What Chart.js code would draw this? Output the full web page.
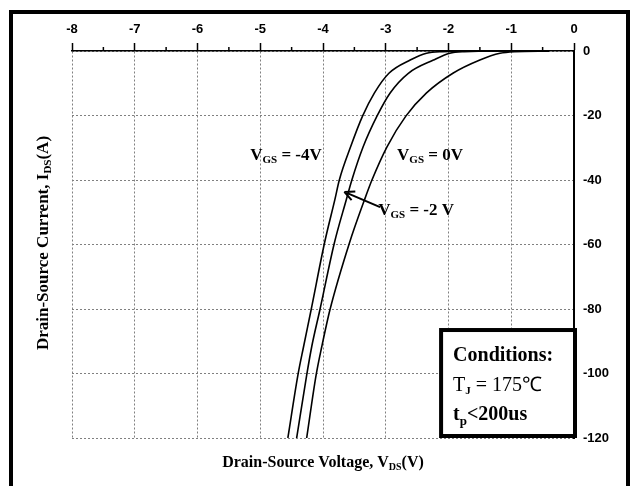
<!DOCTYPE html>
<html>
<head>
<meta charset="utf-8">
<script src="https://cdn.jsdelivr.net/npm/chart.js@4.4.0/dist/chart.umd.min.js"></script>
<style>
  html, body { margin: 0; padding: 0; background: #fff; }
  #wrap { position: relative; width: 632px; height: 486px; overflow: hidden; }
  #frame { position: absolute; left: 9px; top: 10px; width: 621px; height: 520px;
           box-sizing: border-box; border: 4px solid #000; pointer-events: none; }
</style>
</head>
<body>
<div id="wrap">
  <canvas id="myChart" width="632" height="486"></canvas>
  <div id="frame"></div>
</div>
<script>
// tick values
const xTickValues = [-8, -7, -6, -5, -4, -3, -2, -1, 0];
const xMinorTicks = [-7.5, -6.5, -5.5, -4.5, -3.5, -2.5, -1.5, -0.5];
const yTickValues = [-120, -100, -80, -60, -40, -20, 0];

// V_GS = -4V (left curve)
const vgsNeg4X = [-4.56, -4.40, -4.31, -4.19, -3.97, -3.81, -3.74, -3.56, -3.37, -3.18, -2.95, -2.61, -2.35, -2.10, -1.50, -0.40];
const vgsNeg4Y = [-120, -100.5, -91.7, -80.3, -59, -46, -40, -29.7, -20.2, -13, -6.9, -2.8, -0.7, -0.2, 0, 0];
// V_GS = -2V (middle curve)
const vgsNeg2X = [-4.42, -4.26, -4.18, -4.05, -3.82, -3.63, -3.54, -3.36, -3.14, -2.93, -2.64, -2.24, -1.98, -1.75, -1.20, -0.40];
const vgsNeg2Y = [-120, -100.5, -91.7, -80.3, -59.6, -46.2, -40, -29.7, -20.2, -13, -6.9, -2.8, -0.7, -0.2, 0, 0];
// V_GS = 0V (right curve)
const vgs0X = [-4.26, -4.11, -4.02, -3.89, -3.58, -3.34, -3.22, -2.98, -2.68, -2.35, -1.93, -1.50, -1.18, -0.95, -0.40];
const vgs0Y = [-120, -100.5, -91.7, -80.3, -59.6, -46.2, -40, -29.7, -20.2, -13, -6.9, -2.8, -0.7, -0.2, 0];

function toPoints(xs, ys) {
  return xs.map((v, i) => ({ x: v, y: ys[i] }));
}

// draws text pieces one after another (for subscripts)
function drawParts(ctx, parts, x, y) {
  parts.forEach(p => {
    ctx.font = p.font;
    ctx.fillText(p.text, x, y + (p.dy || 0));
    x += ctx.measureText(p.text).width;
  });
}

function partsWidth(ctx, parts) {
  let w = 0;
  parts.forEach(p => { ctx.font = p.font; w += ctx.measureText(p.text).width; });
  return w;
}

const SERIF = '"Liberation Serif", "Times New Roman", serif';
const big = 'bold 17px ' + SERIF;
const sub = 'bold 11px ' + SERIF;

const extras = {
  id: 'extras',
  afterDraw(chart) {
    const ctx = chart.ctx;
    const xs = chart.scales.x;
    const ys = chart.scales.y;
    const area = chart.chartArea;
    ctx.save();
    ctx.fillStyle = '#000';
    ctx.strokeStyle = '#000';
    ctx.textBaseline = 'alphabetic';
    ctx.textAlign = 'left';

    // minor ticks on the top axis
    ctx.lineWidth = 1.5;
    xMinorTicks.forEach(v => {
      const px = xs.getPixelForValue(v);
      ctx.beginPath();
      ctx.moveTo(px, area.top);
      ctx.lineTo(px, area.top - 4);
      ctx.stroke();
    });

    // curve labels
    drawParts(ctx, [{text: 'V', font: big}, {text: 'GS', font: sub, dy: 3}, {text: ' = -4V', font: big}],
      xs.getPixelForValue(-5.16), ys.getPixelForValue(-33.8));
    drawParts(ctx, [{text: 'V', font: big}, {text: 'GS', font: sub, dy: 3}, {text: ' = 0V', font: big}],
      xs.getPixelForValue(-2.82), ys.getPixelForValue(-33.8));
    drawParts(ctx, [{text: 'V', font: big}, {text: 'GS', font: sub, dy: 3}, {text: ' = -2 V', font: big}],
      xs.getPixelForValue(-3.12), ys.getPixelForValue(-50.9));

    // arrow pointing at the -2V curve
    const tx = xs.getPixelForValue(-3.66), ty = ys.getPixelForValue(-43.7);
    const fx = xs.getPixelForValue(-3.09), fy = ys.getPixelForValue(-48.4);
    const ang = Math.atan2(ty - fy, tx - fx);
    ctx.lineWidth = 2;
    ctx.beginPath();
    ctx.moveTo(fx, fy);
    ctx.lineTo(tx, ty);
    ctx.moveTo(tx, ty);
    ctx.lineTo(tx - 11 * Math.cos(ang - 0.45), ty - 11 * Math.sin(ang - 0.45));
    ctx.moveTo(tx, ty);
    ctx.lineTo(tx - 11 * Math.cos(ang + 0.45), ty - 11 * Math.sin(ang + 0.45));
    ctx.stroke();

    // conditions box
    const bx = xs.getPixelForValue(-2.15), by = ys.getPixelForValue(-85.9);
    const bx2 = xs.getPixelForValue(0) + 3, by2 = ys.getPixelForValue(-120);
    ctx.fillStyle = '#fff';
    ctx.fillRect(bx, by, bx2 - bx, by2 - by);
    ctx.lineWidth = 4;
    ctx.strokeRect(bx + 2, by + 2, bx2 - bx - 4, by2 - by - 4);
    ctx.fillStyle = '#000';
    const cBig = 'bold 20px ' + SERIF;
    drawParts(ctx, [{text: 'Conditions:', font: cBig}], bx + 14, by + 33);
    drawParts(ctx, [{text: 'T', font: '20px ' + SERIF}, {text: 'J', font: 'bold 11px ' + SERIF, dy: 3},
      {text: ' = 175\u2103', font: '20px ' + SERIF}], bx + 14, by + 63);
    drawParts(ctx, [{text: 't', font: cBig}, {text: 'p', font: 'bold 13px ' + SERIF, dy: 5},
      {text: '<200us', font: cBig}], bx + 14, by + 92);

    // axis titles
    const xt = [{text: 'Drain-Source Voltage, V', font: 'bold 16px ' + SERIF},
      {text: 'DS', font: 'bold 10px ' + SERIF, dy: 3}, {text: '(V)', font: 'bold 16px ' + SERIF}];
    const xw = partsWidth(ctx, xt);
    drawParts(ctx, xt, (area.left + area.right) / 2 - xw / 2, 467);

    const yt = [{text: 'Drain-Source Current, I', font: 'bold 17px ' + SERIF},
      {text: 'DS', font: 'bold 11px ' + SERIF, dy: 3}, {text: '(A)', font: 'bold 17px ' + SERIF}];
    const yw = partsWidth(ctx, yt);
    ctx.translate(48, 243);
    ctx.rotate(-Math.PI / 2);
    drawParts(ctx, yt, -yw / 2, 0);
    ctx.restore();
  }
};

function createChart() {
  const ctx = document.getElementById('myChart').getContext('2d');
  const curve = {
    showLine: true,
    pointRadius: 0,
    borderColor: '#000',
    borderWidth: 1.6,
    cubicInterpolationMode: 'monotone',
    fill: false
  };
  const tickFont = { family: '"Liberation Sans", Arial, sans-serif', size: 13, weight: 'bold' };

  new Chart(ctx, {
    type: 'scatter',
    data: {
      datasets: [
        Object.assign({ label: 'VGS = -4V', data: toPoints(vgsNeg4X, vgsNeg4Y) }, curve),
        Object.assign({ label: 'VGS = -2V', data: toPoints(vgsNeg2X, vgsNeg2Y) }, curve),
        Object.assign({ label: 'VGS = 0V', data: toPoints(vgs0X, vgs0Y) }, curve)
      ]
    },
    options: {
      responsive: false,
      animation: false,
      layout: { padding: { left: 72, top: 0, right: 0, bottom: 48 } },
      plugins: { legend: { display: false }, tooltip: { enabled: false } },
      scales: {
        x: {
          type: 'linear',
          position: 'top',
          min: -8,
          max: 0,
          afterBuildTicks: s => { s.ticks = xTickValues.map(v => ({ value: v })); },
          afterFit: s => { s.height = 51; },
          ticks: { font: tickFont, color: '#000', padding: 6 },
          grid: { color: '#808080', lineWidth: 1, tickColor: '#000', tickLength: 8, tickWidth: 1.5 },
          border: { color: '#000', width: 1.5, dash: [2, 2] }
        },
        y: {
          type: 'linear',
          position: 'right',
          min: -120,
          max: 0,
          afterBuildTicks: s => { s.ticks = yTickValues.map(v => ({ value: v })); },
          afterFit: s => { s.width = 58; },
          ticks: { font: tickFont, color: '#000', padding: 9 },
          grid: { color: '#808080', lineWidth: 1, drawTicks: false },
          border: { color: '#000', width: 2, dash: [2, 2] }
        }
      }
    },
    plugins: [extras]
  });
}

document.addEventListener("DOMContentLoaded", function() {
  createChart();
});
</script>
</body>
</html>
